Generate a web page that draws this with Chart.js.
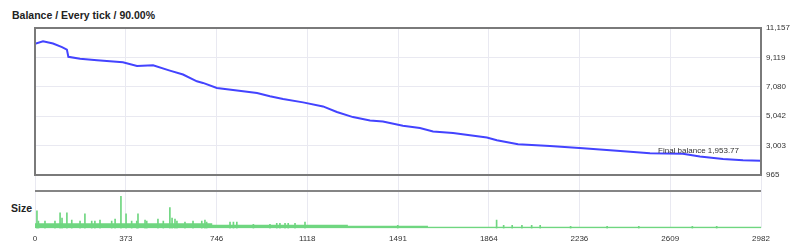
<!DOCTYPE html>
<html>
<head>
<meta charset="utf-8">
<script src="https://cdn.jsdelivr.net/npm/chart.js@4.4.0/dist/chart.umd.min.js"></script>
<style>
  body { margin: 0; background: #fff; width: 800px; height: 250px; position: relative; overflow: hidden;
         font-family: "Liberation Sans", Arial, sans-serif; }
  canvas { position: absolute; left: 0; }
  #balanceChart { top: 0; }
  #sizeChart { top: 190px; }
  .lbl { position: absolute; font-weight: bold; font-size: 10.5px; color: #222; line-height: 12px; }
</style>
</head>
<body>
<div class="lbl" style="left:12px; top:9px;">Balance / Every tick / 90.00%</div>
<div class="lbl" style="left:11px; top:202px;">Size</div>
<canvas id="balanceChart" width="800" height="190"></canvas>
<canvas id="sizeChart" width="800" height="60"></canvas>
<script>
// data
const xTicks = [0, 373, 746, 1118, 1491, 1864, 2236, 2609, 2982];
const yTicks = [965, 3003.4, 5041.8, 7080.2, 9118.6, 11157];

const balanceTicks = [0, 33, 74, 111, 131, 137, 185, 255, 361, 419, 485, 554, 608, 665, 690, 747, 830, 912,
    965, 1019, 1101, 1183, 1240, 1306, 1376, 1429, 1511, 1581, 1635, 1717, 1856, 1897, 1984, 2115, 2251,
    2390, 2526, 2661, 2731, 2826, 2908, 2982];
const balanceValues = [10060, 10240, 10080, 9830, 9660, 9160, 9020, 8920, 8780, 8530, 8570, 8200, 7930, 7460,
    7350, 7000, 6830, 6650, 6430, 6230, 6000, 5720, 5330, 4980, 4740, 4680, 4380, 4220, 3980, 3870, 3560,
    3370, 3090, 2980, 2820, 2640, 2480, 2430, 2240, 2080, 1980, 1953.77];
const finalBalance = 1953.77;

const sizeTicks = [8, 14, 41, 82, 103, 111, 131, 151, 185, 205, 233, 246, 267, 315, 329, 353, 374, 397, 418,
    423, 452, 459, 505, 527, 554, 563, 575, 583, 616, 649, 685, 698, 705, 801, 815, 829, 897, 965, 993,
    1006, 1027, 1040, 1068, 1109, 1490, 1896, 1925, 1960, 2000, 2040, 2075, 2200, 2350, 2480, 2700, 2800];
const sizeValues = [17, 7, 7, 7, 15, 10, 15, 8, 7, 14, 7, 7, 8, 7, 9, 31, 14, 7, 7,
    14, 8, 7, 9, 7, 20, 10, 9, 7, 6, 7, 7, 8, 6, 6, 6, 6, 4, 4, 5,
    5, 5, 5, 5, 6, 3, 8, 3, 3, 3, 3, 3, 2, 2, 2, 2, 2];
const baseTicks = [0, 728, 1285, 1614, 2982];
const baseValues = [5, 3.5, 2.5, 1.5, 1.5];

const font = '"Liberation Sans", Arial, sans-serif';
const gridColor = '#e9e9f1';
const green = '#6fd680';

// plugins
const frame = {
    id: 'frame',
    afterDatasetsDraw(chart) {
        const a = chart.chartArea, ctx = chart.ctx;
        ctx.save();
        ctx.strokeStyle = '#7a7a7a';
        ctx.lineWidth = 2;
        ctx.strokeRect(a.left, a.top, a.right - a.left, a.bottom - a.top);
        // final balance label
        const xs = chart.scales.x, ys = chart.scales.y;
        ctx.font = '8px ' + font;
        ctx.fillStyle = '#333';
        ctx.textAlign = 'right';
        ctx.textBaseline = 'middle';
        ctx.fillText('Final balance ' + finalBalance.toLocaleString('en-US', {minimumFractionDigits: 2}),
            xs.getPixelForValue(balanceTicks[balanceTicks.length - 1]) - 22,
            ys.getPixelForValue(finalBalance) - 10);
        ctx.restore();
    }
};

const separator = {
    id: 'separator',
    afterDraw(chart) {
        const a = chart.chartArea, ctx = chart.ctx;
        ctx.save();
        ctx.strokeStyle = '#858585';
        ctx.lineWidth = 2;
        ctx.beginPath();
        ctx.moveTo(a.left, a.top + 1);
        ctx.lineTo(a.right, a.top + 1);
        ctx.stroke();
        ctx.restore();
    }
};

// balance chart
const balanceChart = new Chart(document.getElementById('balanceChart'), {
    type: 'line',
    data: {
        datasets: [{
            data: balanceTicks.map((t, i) => ({x: t, y: balanceValues[i]})),
            borderColor: '#4343ff',
            borderWidth: 2,
            pointRadius: 0,
            tension: 0
        }]
    },
    options: {
        responsive: false,
        animation: false,
        layout: {padding: {left: 35, top: 28, right: 0, bottom: 0}},
        plugins: {legend: {display: false}, tooltip: {enabled: false}},
        scales: {
            x: {
                type: 'linear', min: 0, max: 2982,
                afterBuildTicks: s => { s.ticks = xTicks.map(v => ({value: v})); },
                grid: {color: gridColor, drawTicks: true, tickLength: 15},
                border: {display: false},
                ticks: {display: false}
            },
            y: {
                position: 'right', min: 965, max: 11157,
                afterBuildTicks: s => { s.ticks = yTicks.map(v => ({value: v})); },
                afterFit: s => { s.width = 39; },
                grid: {color: gridColor, drawTicks: false},
                border: {display: false},
                ticks: {
                    padding: 5, color: '#333', font: {size: 8, family: font},
                    callback: v => Math.round(v).toLocaleString('en-US')
                }
            }
        }
    },
    plugins: [frame]
});

// size chart
const sizeChart = new Chart(document.getElementById('sizeChart'), {
    type: 'bar',
    data: {
        datasets: [{
            type: 'bar',
            data: sizeTicks.map((t, i) => ({x: t, y: sizeValues[i]})),
            backgroundColor: green,
            barThickness: 1,
            order: 1
        }, {
            type: 'line',
            data: baseTicks.map((t, i) => ({x: t, y: baseValues[i]})),
            stepped: true,
            fill: 'origin',
            backgroundColor: green,
            borderWidth: 0,
            pointRadius: 0,
            order: 2
        }]
    },
    options: {
        responsive: false,
        animation: false,
        layout: {padding: {left: 35, right: 39, top: 0, bottom: 0}},
        plugins: {legend: {display: false}, tooltip: {enabled: false}},
        scales: {
            x: {
                type: 'linear', min: 0, max: 2982, offset: false,
                afterBuildTicks: s => { s.ticks = xTicks.map(v => ({value: v})); },
                grid: {color: gridColor, drawTicks: false, offset: false},
                border: {display: false},
                ticks: {padding: 6, color: '#333', font: {size: 8, family: font}, maxRotation: 0,
                    autoSkip: false, callback: v => String(v)}
            },
            y: {display: false, min: 0, max: 37}
        }
    },
    plugins: [separator]
});
</script>
</body>
</html>
